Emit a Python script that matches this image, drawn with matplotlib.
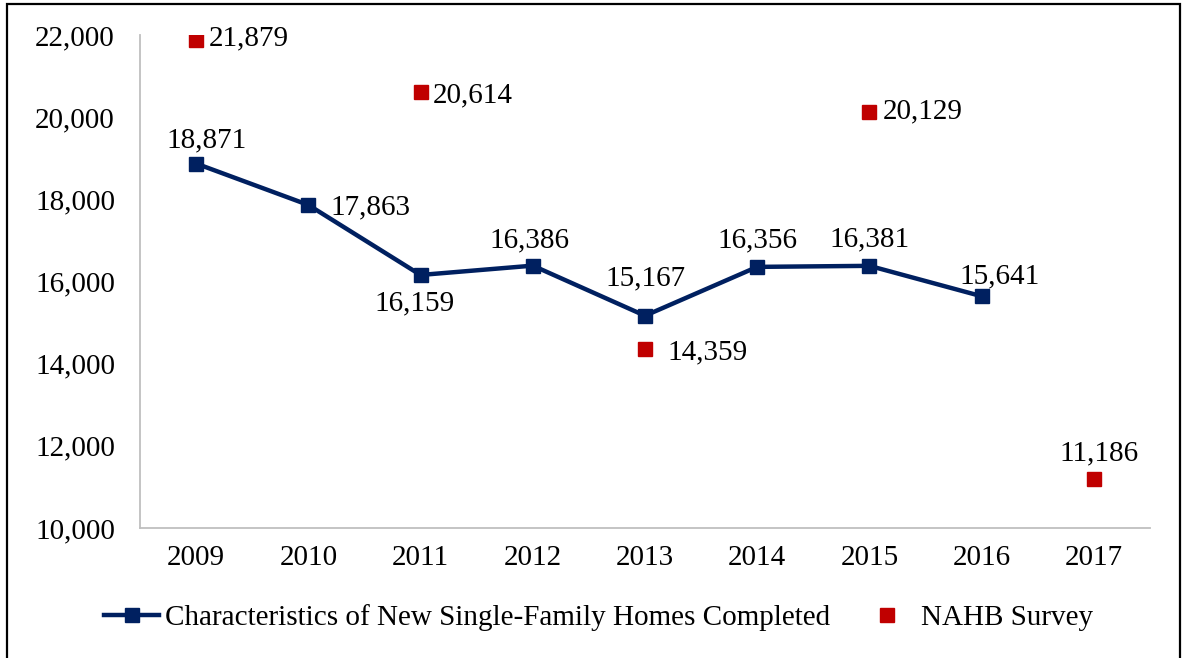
import numpy as np
import matplotlib.pyplot as plt
from matplotlib.patches import Rectangle

years = ["2009", "2010", "2011", "2012", "2013", "2014", "2015", "2016", "2017"]
census = [18871, 17863, 16159, 16386, 15167, 16356, 16381, 15641]
nahb_years = ["2009", "2011", "2013", "2015", "2017"]
nahb = [21879, 20614, 14359, 20129, 11186]

# label offsets (pixels) for the data labels
census_off = [(10, 23), (22, -2), (-6, -28), (-3, 25), (0, 37), (0, 26), (0, 26), (18, 20)]
census_ha = ["center", "left", "center", "center", "center", "center", "center", "center"]
nahb_off = [(13, 2), (12, -3), (22, -3), (13, 0), (5, 26)]
nahb_ha = ["left", "left", "left", "left", "center"]

plt.rcParams['font.family'] = ['Liberation Serif', 'DejaVu Serif']
FS = 21
navy = "#002060"
red = "#C00000"

fig = plt.figure(figsize=(11.85, 6.58), dpi=100)
ax = fig.add_axes([140 / 1185, 1 - 528 / 658, 1010 / 1185, 493 / 658])

x = np.arange(len(years))
xc = x[:len(census)]
xn = [years.index(y) for y in nahb_years]

ax.plot(xc, census, color=navy, linewidth=3.2, marker="s", markersize=10,
        label="Characteristics of New Single-Family Homes Completed")
ax.plot(xn, nahb, linestyle="none", color=red, marker="s", markersize=10,
        label="NAHB Survey")

for xi, v, off, ha in zip(xc, census, census_off, census_ha):
    ax.annotate(f"{v:,}", (xi, v), xytext=off, textcoords="offset pixels",
                ha=ha, va="center", fontsize=FS)
for xi, v, off, ha in zip(xn, nahb, nahb_off, nahb_ha):
    ax.annotate(f"{v:,}", (xi, v), xytext=off, textcoords="offset pixels",
                ha=ha, va="center", fontsize=FS)

ax.set_xlim(-0.5, len(years) - 0.5)
ax.set_ylim(10000, 22000)
ax.set_yticks(np.arange(10000, 22001, 2000))
ax.set_yticklabels([f"{t:,}" for t in range(10000, 22001, 2000)], fontsize=FS)
ax.set_xticks(x)
ax.set_xticklabels(years, fontsize=FS)
ax.tick_params(length=0, pad=12)
ax.tick_params(axis="y", pad=18)
for s in ["top", "right"]:
    ax.spines[s].set_visible(False)
for s in ["left", "bottom"]:
    ax.spines[s].set_color("#BFBFBF")
    ax.spines[s].set_linewidth(1.3)

fig.legend(loc="center", bbox_to_anchor=(0.505, 1 - 618 / 658), ncol=2, frameon=False,
           fontsize=FS, handlelength=1.9, handletextpad=0.2, columnspacing=1.0)

fig.patches.append(Rectangle((7 / 1185, -0.05), 1173 / 1185, 1.05 - 4 / 658,
                             transform=fig.transFigure, fill=False,
                             edgecolor="black", linewidth=1.6))

fig.savefig("out.png", dpi=100)
